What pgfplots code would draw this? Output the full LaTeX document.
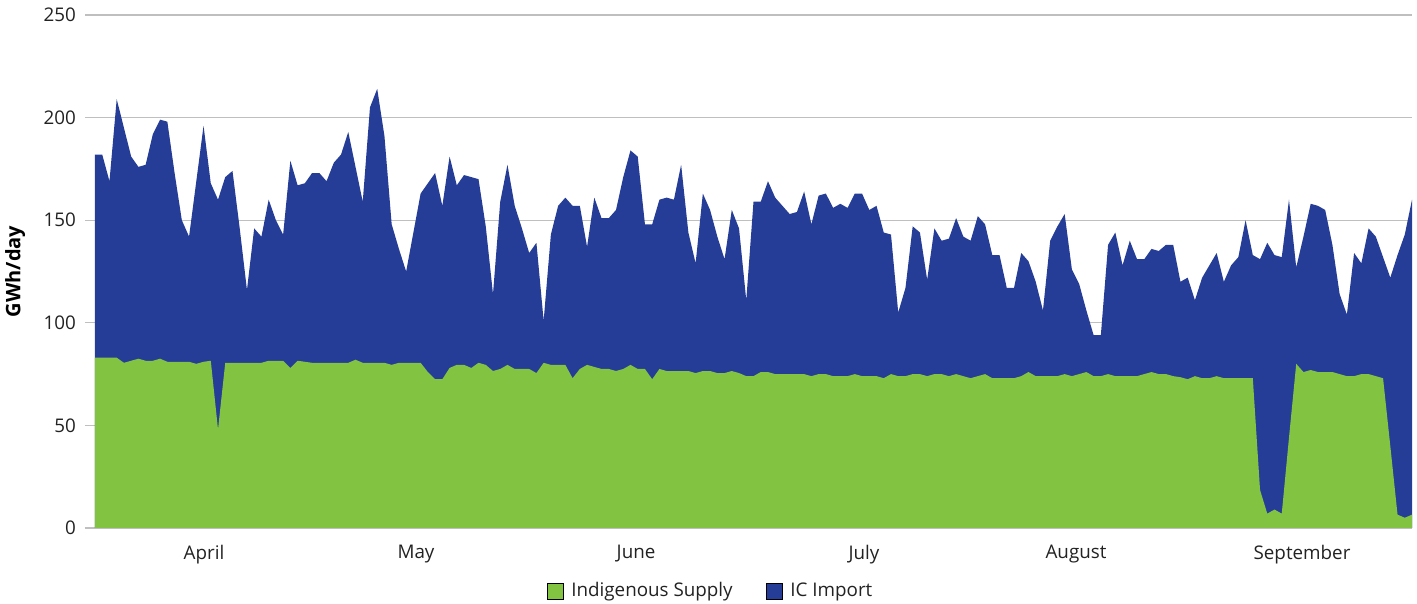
\documentclass[border=0pt]{standalone}
\usepackage{pgfplots}
\pgfplotsset{compat=1.18}
\usepackage{pgfplotstable}
\usepackage{fontspec}
\setmainfont{Open Sans}
\definecolor{icgreen}{RGB}{130,195,65}
\definecolor{icblue}{RGB}{37,61,150}
\definecolor{gridgray}{RGB}{191,191,191}
\definecolor{txt}{RGB}{34,34,34}

\pgfplotstableread{
g t
83 182
83 182
83 169
83 209
80.5 195
81.5 181
82.5 176
81.5 177
81.5 192
82.5 199
81 198
81 173
81 150
81 142
80 169
81 196
81.5 168
48 160
80.5 171
80.5 174
80.5 146
80.5 116
80.5 146
80.5 142
81.5 160
81.5 150
81.5 143
78 179
81.5 167
81 168
80.5 173
80.5 173
80.5 169
80.5 178
80.5 182
80.5 193
82 176
80.5 159
80.5 205
80.5 214
80.5 191
79.5 148
80.5 136
80.5 125
80.5 144
80.5 163
76 168
72.5 173
72.5 157
78 181
79.5 167
79.5 172
78 171
80.5 170
79.5 147
76.5 114
77.5 159
79.5 177
77.5 157
77.5 146
77.5 134
75.5 139
80.5 101
79.5 143
79.5 157
79.5 161
73 157
77.5 157
79.5 137
78.5 161
77.5 151
77.5 151
76.5 155
77.5 171
79.5 184
77.5 181
77.5 148
72.5 148
77.5 160
76.5 161
76.5 160
76.5 177
76.5 144
75.5 129
76.5 163
76.5 155
75.5 142
75.5 131
76.5 155
75.5 146
74 111
74 159
76 159
76 169
75 161
75 157
75 153
75 154
75 164
74 148
75 162
75 163
74 156
74 158
74 156
75 163
74 163
74 155
74 157
73 144
75 143
74 105
74 117
75 147
75 144
74 121
75 146
75 140
74 141
75 151
74 142
73 140
74 152
75 148
73 133
73 133
73 117
73 117
74 134
76 130
74 120
74 106
74 140
74 147
75 153
74 126
75 119
76 106
74 94
74 94
75 138
74 144
74 128
74 140
74 131
75 131
76 136
75 135
75 138
74 138
73.5 120
72.5 122
74 111
73 122
73 128
74 134
73 120
73 128
73 132
73 150
73 133
18.5 131
7 139
9 133
7 132
44 160
80 127
76 142
77 158
76 157
76 155
76 138
75 114
74 104
74 134
75 129
75 146
74 142
73 132
40 122
6.5 133
5 143
6.5 160
}\data

\begin{document}
\begin{tikzpicture}
\path[use as bounding box] (-47.5pt,-38pt) rectangle (661pt,264pt);
\begin{axis}[
  at={(0pt,0pt)}, anchor=south west, scale only axis,
  width=658.5pt, height=256.5pt,
  xmin=0, xmax=182, ymin=0, ymax=250,
  axis x line*=bottom, axis y line*=left,
  x axis line style={gridgray, line width=1pt, -},
  y axis line style={draw=none},
  ytick={0,50,...,250},
  ymajorgrids, grid style={gridgray, line width=0.6pt},
  tick align=outside,
  major tick length=5pt, minor tick length=5pt,
  ytick style={gridgray, line width=0.6pt},
  xtick={15.06,44.36,74.77,106.27,135.57,166.8},
  xticklabels={April,May,June,July,August,September},
  xtick style={draw=none},
  minor xtick={0,30.3333,60.6667,91,121.3333,151.6667,182},
  minor tick style={gridgray, line width=0.8pt},
  ticklabel style={font=\fontsize{9.4}{11}\selectfont, text=txt},
  /pgf/number format/assume math mode=true,
  yticklabel style={xshift=-1pt},
  ylabel={GWh/day},
  ylabel style={at={(axis description cs:-0.0607,0.5)}, anchor=center, font=\fontsize{10}{12}\selectfont\bfseries, text=black},
  legend style={at={(axis description cs:0.4681,-0.1228)}, anchor=center, draw=none, fill=none,
    legend columns=2, font=\fontsize{9.4}{11}\selectfont, text=txt,
    /tikz/every odd column/.append style={column sep=2pt},
    /tikz/every even column/.append style={column sep=14.5pt}},
  legend image code/.code={\fill[#1] (0pt,-4pt) rectangle (8pt,4pt);},
]
\addlegendimage{fill=icgreen}
\addlegendentry{Indigenous Supply}
\addlegendimage{fill=icblue}
\addlegendentry{IC Import}
\addplot[fill=icblue, draw=none, forget plot] table[x expr=\coordindex, y=t]{\data} \closedcycle;
\addplot[fill=icgreen, draw=none, forget plot] table[x expr=\coordindex, y=g]{\data} \closedcycle;
\end{axis}
\end{tikzpicture}
\end{document}
